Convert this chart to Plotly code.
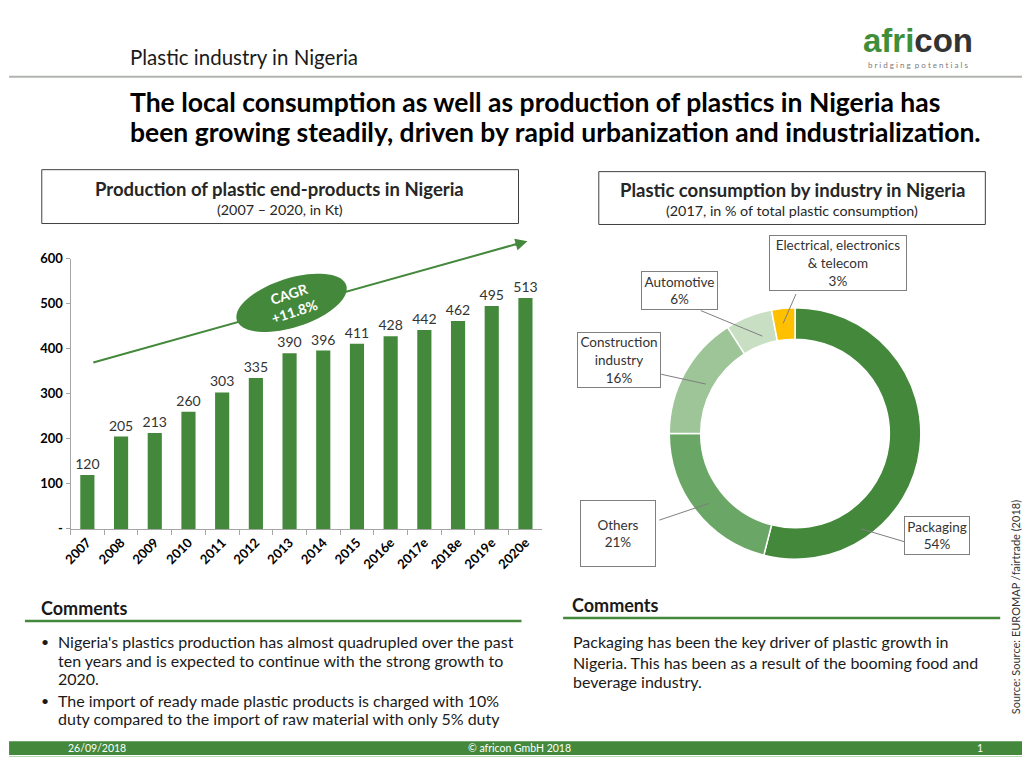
import math
import plotly.graph_objects as go

# The page keeps the browser's 8px body margin, so the figure is drawn 16px smaller
# and every reference-pixel position is shifted by that margin.
PAGE_W, PAGE_H = 1030, 773
OFF = 8
FW, FH = PAGE_W - 2 * OFF, PAGE_H - 2 * OFF
def px(x): return (x - OFF) / FW
def py(y): return 1 - (y - OFF) / FH

FONT = "Lato"
GREEN = "#43883b"
DARK = "#262626"

# ---------------- data ----------------
years = ["2007", "2008", "2009", "2010", "2011", "2012", "2013", "2014",
         "2015", "2016e", "2017e", "2018e", "2019e", "2020e"]
production_kt = [120, 205, 213, 260, 303, 335, 390, 396, 411, 428, 442, 462, 495, 513]
y_tick_vals = [0, 100, 200, 300, 400, 500, 600]
y_tick_text = ["-", "100", "200", "300", "400", "500", "600"]

segments = ["Packaging", "Others", "Construction industry", "Automotive",
            "Electrical, electronics & telecom"]
segment_label_lines = ["Packaging", "Others", "Construction<br>industry", "Automotive",
                       "Electrical, electronics<br>& telecom"]
shares = [54, 21, 16, 6, 3]
segment_colors = ["#43883b", "#6aa665", "#9dc597", "#c8dfc4", "#ffc000"]

cagr_text = "CAGR<br>+11.8%"

left_comment_lines = [
    "Nigeria's plastics production has almost quadrupled over the past",
    "ten years and is expected to continue with the strong growth to",
    "2020.",
    "The import of ready made plastic products is charged with 10%",
    "duty compared to the import of raw material with only 5% duty",
]
right_comment_lines = [
    "Packaging has been the key driver of plastic growth in",
    "Nigeria. This has been as a result of the booming food and",
    "beverage industry.",
]

fig = go.Figure()

fig.add_trace(go.Bar(
    x=years, y=production_kt,
    marker=dict(color=GREEN, line=dict(width=0)),
    text=[str(v) for v in production_kt], textposition="outside",
    constraintext="none",
    textfont=dict(family=FONT, size=14, color="#333333"),
    cliponaxis=False, showlegend=False, hoverinfo="skip",
))

fig.add_trace(go.Pie(
    labels=segments, values=shares, sort=False, direction="clockwise", rotation=0,
    hole=0.75, textinfo="none", showlegend=False,
    marker=dict(colors=segment_colors, line=dict(color="white", width=1.5)),
    domain=dict(x=[px(664), px(922)], y=[py(563), py(306)]),
    hoverinfo="skip",
))

shapes = []
annotations = []

def add_text(x, y, text, size, color=DARK, bold=False, xanchor="left", yanchor="middle",
             align="left", **kw):
    t = f"<b>{text}</b>" if bold else text
    annotations.append(dict(x=px(x), y=py(y), xref="paper", yref="paper", text=t,
                            showarrow=False, xanchor=xanchor, yanchor=yanchor, align=align,
                            font=dict(family=FONT, size=size, color=color), **kw))

def add_rect(x0, y0, x1, y1, line="#404040", fill=None, width=1):
    shapes.append(dict(type="rect", xref="paper", yref="paper",
                       x0=px(x0), x1=px(x1), y0=py(y1), y1=py(y0),
                       line=dict(color=line, width=width) if line else dict(width=0),
                       fillcolor=fill, layer="below"))

def add_line(x0, y0, x1, y1, color, width=1):
    shapes.append(dict(type="line", xref="paper", yref="paper",
                       x0=px(x0), x1=px(x1), y0=py(y0), y1=py(y1),
                       line=dict(color=color, width=width)))

# header
add_text(120, 50, "Plastic industry in Nigeria", 20.5, color="#1a1a1a")
annotations.append(dict(x=px(860), y=py(33), xref="paper", yref="paper",
                        text="<b><span style='color:#3f8f3a'>afri</span><span style='color:#333333'>con</span></b>",
                        showarrow=False, xanchor="left", yanchor="middle",
                        font=dict(family="Liberation Sans", size=33)))
add_text(917, 58, "b r i d g i n g  p o t e n t i a l s", 8, color="#7a7a7a", xanchor="center")
add_line(0, 70, 1030, 70, "#b0b4ae", 2)

add_text(120, 96, "The local consumption as well as production of plastics in Nigeria has", 26.5,
         color="#000000", bold=True)
add_text(120, 127, "been growing steadily, driven by rapid urbanization and industrialization.", 26.5,
         color="#000000", bold=True)

# chart title boxes
add_rect(33, 165, 514, 220)
add_text(273, 185, "Production of plastic end-products in Nigeria", 18.5, bold=True, xanchor="center")
add_text(273, 206, "(2007 – 2020, in Kt)", 14.3, xanchor="center")
add_rect(595, 167, 985, 221)
add_text(790, 186, "Plastic consumption by industry in Nigeria", 18.5, bold=True, xanchor="center")
add_text(790, 207, "(2017, in % of total plastic consumption)", 14.3, xanchor="center")

# trend arrow and CAGR ellipse
add_line(85, 362, 512, 241, GREEN, 2)
annotations.append(dict(x=px(523), y=py(238), xref="paper", yref="paper", text="",
                        showarrow=True, ax=-14, ay=4, axref="pixel", ayref="pixel",
                        arrowhead=2, arrowsize=1.2, arrowwidth=2, arrowcolor=GREEN))
cx, cy, ra, rb, ang = 285, 301, 58, 25, math.radians(18)
pts = []
for i in range(73):
    t = 2 * math.pi * i / 72
    ex, ey = ra * math.cos(t), rb * math.sin(t)
    X = cx + ex * math.cos(ang) - ey * math.sin(ang)
    Y = cy - (ex * math.sin(ang) + ey * math.cos(ang))
    pts.append(f"{px(X):.5f},{py(Y):.5f}")
shapes.append(dict(type="path", xref="paper", yref="paper",
                   path="M " + " L ".join(pts) + " Z",
                   fillcolor=GREEN, line=dict(width=0)))
annotations.append(dict(x=px(cx), y=py(cy), xref="paper", yref="paper", text=f"<b>{cagr_text}</b>",
                        showarrow=False, textangle=-18, xanchor="center", yanchor="middle",
                        font=dict(family=FONT, size=14, color="white")))

# donut labels
label_boxes = {  # center x, center y, width, height
    "Packaging": (936, 539, 66, 39),
    "Others": (614, 537, 76, 67),
    "Construction industry": (615, 359, 84, 56),
    "Automotive": (676, 288, 77, 39),
    "Electrical, electronics & telecom": (836, 260, 138, 56),
}
leaders = {
    "Packaging": (860, 532, 903, 545),
    "Others": (706, 506, 656, 523),
    "Construction industry": (703, 384, 658, 374),
    "Automotive": (760, 335, 698, 309),
    "Electrical, electronics & telecom": (781, 322, 794, 292),
}
for seg, lines, share in zip(segments, segment_label_lines, shares):
    bx, by, bw, bh = label_boxes[seg]
    x0, y0, x1, y1 = leaders[seg]
    add_line(x0, y0, x1, y1, "#7f7f7f", 1)
    annotations.append(dict(x=px(bx), y=py(by), xref="paper", yref="paper",
                            text=f"{lines}<br>{share}%", showarrow=False,
                            xanchor="center", yanchor="middle", align="center",
                            width=bw - 2, height=bh - 2, borderpad=0,
                            bordercolor="#7f7f7f", borderwidth=1, bgcolor="white",
                            font=dict(family=FONT, size=13.5, color="#333333")))

# comments
add_text(30, 613, "Comments", 18, bold=True, color="#1a1a1a")
add_line(16, 626, 517, 626, GREEN, 2.5)
add_text(566, 610, "Comments", 18, bold=True, color="#1a1a1a")
add_line(559, 623, 1000, 623, GREEN, 2.5)

left_line_y = [647, 666, 685, 707, 726]
for txt, yy in zip(left_comment_lines, left_line_y):
    add_text(47, yy, txt, 16, color="#1a1a1a")
add_text(30, 647, "•", 14, color="#1a1a1a")
add_text(30, 707, "•", 14, color="#1a1a1a")
right_line_y = [647, 668, 688]
for txt, yy in zip(right_comment_lines, right_line_y):
    add_text(567, yy, txt, 16, color="#1a1a1a")

annotations.append(dict(x=px(1015), y=py(612), xref="paper", yref="paper",
                        text="Source: Source: EUROMAP /fairtrade (2018)", showarrow=False,
                        xanchor="center", yanchor="middle",
                        textangle=-90, font=dict(family=FONT, size=11, color="#333333")))

# footer
add_rect(0, 749, 1030, 763, line=None, fill=GREEN)
add_line(0, 764.5, 1030, 764.5, "#b5d6ae", 1)
add_text(89, 756, "26/09/2018", 10.5, color="white", xanchor="center")
add_text(515, 756, "© africon GmbH 2018", 10.5, color="white", xanchor="center")
add_text(980, 756, "1", 10.5, color="white", xanchor="center")

fig.update_layout(
    width=FW, height=FH, margin=dict(l=0, r=0, t=0, b=0),
    paper_bgcolor="white", plot_bgcolor="white",
    shapes=shapes, annotations=annotations,
    bargap=0.58,
    xaxis=dict(domain=[px(62), px(538)], type="category", tickangle=-45,
               showline=True, linecolor="#a6a6a6", linewidth=1,
               ticks="outside", tickson="boundaries", ticklen=5, tickcolor="#a6a6a6",
               tickfont=dict(family=FONT, size=13, color="#000000", weight="bold"),
               showgrid=False, fixedrange=True),
    yaxis=dict(domain=[py(532), py(256)], range=[0, 600],
               tickvals=y_tick_vals, ticktext=y_tick_text,
               showline=True, linecolor="#a6a6a6", linewidth=1,
               ticks="outside", ticklen=4, tickcolor="#a6a6a6",
               tickfont=dict(family=FONT, size=13, color="#000000", weight="bold"),
               showgrid=False, zeroline=False, fixedrange=True),
)

fig.write_html("out.html", config={"displayModeBar": False})
